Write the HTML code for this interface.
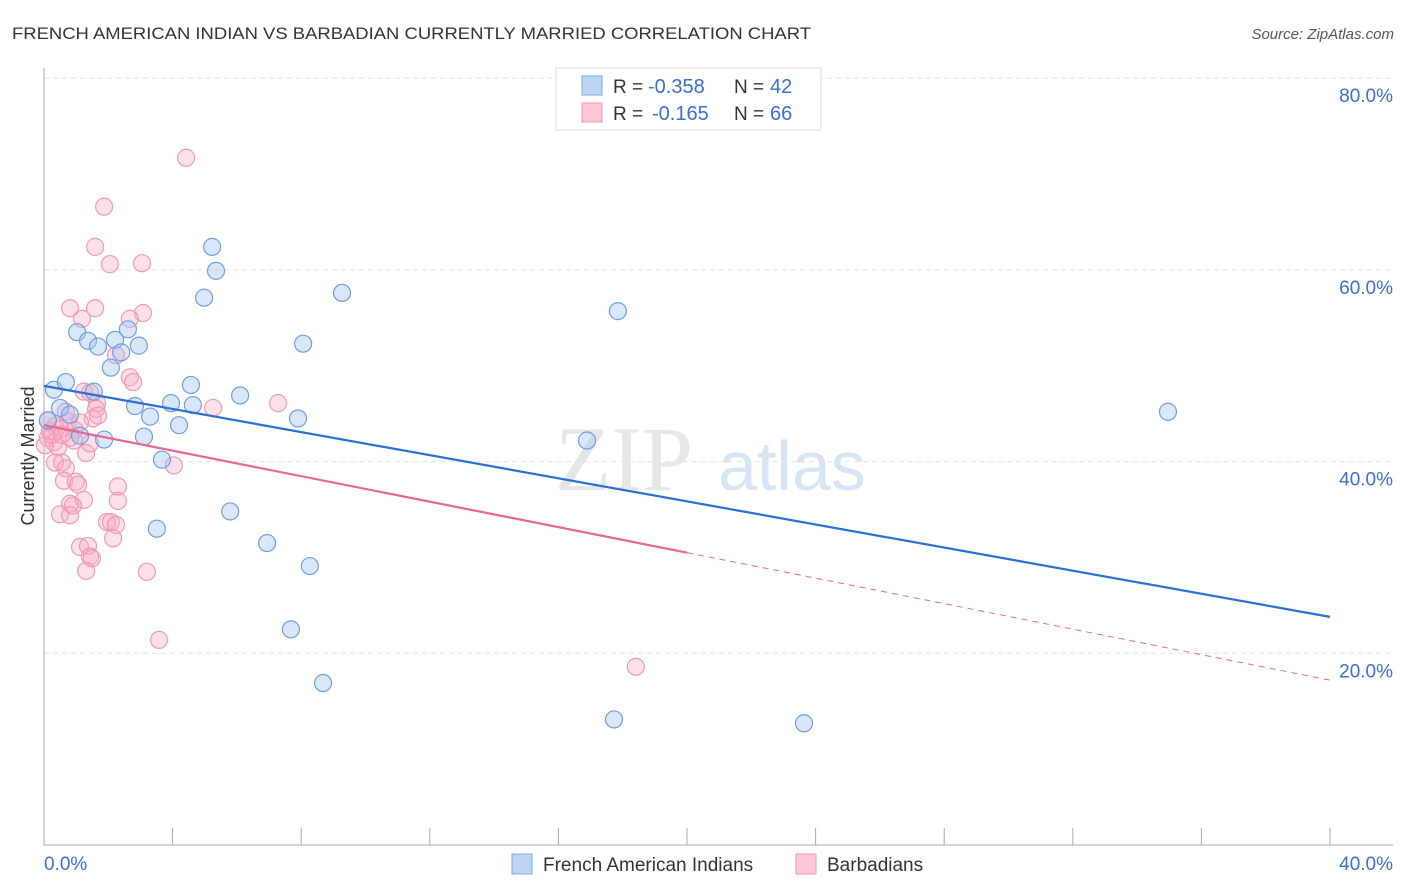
<!DOCTYPE html>
<html><head><meta charset="utf-8">
<style>
body{margin:0;background:#fff;font-family:"Liberation Sans",sans-serif;}
svg{display:block}
</style></head>
<body>
<svg id="chart" width="1406" height="892" xmlns="http://www.w3.org/2000/svg" font-family="Liberation Sans, sans-serif">
<text x="12" y="39" font-size="17" fill="#333" textLength="799" lengthAdjust="spacingAndGlyphs">FRENCH AMERICAN INDIAN VS BARBADIAN CURRENTLY MARRIED CORRELATION CHART</text>
<text x="1394" y="39" font-size="15" fill="#555" text-anchor="end" font-style="italic">Source: ZipAtlas.com</text>
<g>
<text x="555" y="490" font-size="92" fill="#e6e6e6" font-family="Liberation Serif, serif">ZIP</text>
<text x="718" y="490" font-size="70" fill="#d6e4f3">atlas</text>
</g>
<g id="grid"></g>
<g id="axes"></g>
<g id="marks"></g>
<text transform="translate(34,456) rotate(-90)" font-size="18" fill="#333" text-anchor="middle">Currently Married</text>
<g>
<rect x="556" y="68" width="265" height="62" fill="#fff" stroke="#ddd"/>
<rect x="582" y="76" width="20" height="19" fill="#bcd5f5" stroke="#7fa9e0"/>
<rect x="582" y="103" width="20" height="19" fill="#fcc8d6" stroke="#ee9ab2"/>
<text x="613" y="93" font-size="19" fill="#333">R =</text>
<text x="648" y="93" font-size="20" fill="#3a6fd0">-0.358</text>
<text x="734" y="93" font-size="19" fill="#333">N =</text>
<text x="770" y="93" font-size="20" fill="#3a6fd0">42</text>
<text x="613" y="120" font-size="19" fill="#333">R =</text>
<text x="652" y="120" font-size="20" fill="#3a6fd0">-0.165</text>
<text x="734" y="120" font-size="19" fill="#333">N =</text>
<text x="770" y="120" font-size="20" fill="#3a6fd0">66</text>
</g>
<g>
<rect x="512" y="854" width="20" height="20" fill="#bcd5f5" stroke="#7fa9e0"/>
<text x="543" y="871" font-size="19" fill="#333">French American Indians</text>
<rect x="796" y="854" width="20" height="20" fill="#fcc8d6" stroke="#ee9ab2"/>
<text x="827" y="871" font-size="19" fill="#333">Barbadians</text>
</g>
</svg>
<script>
const yTicks=[20,40,60,80];
const yTickLabels=["20.0%","40.0%","60.0%","80.0%"];
const xTickLabels=["0.0%","40.0%"];
const blueX=[0.31,0.68,0.50,0.81,1.12,1.03,1.37,1.68,1.55,1.87,2.21,2.40,2.08,2.61,2.95,2.83,3.30,3.11,3.67,3.51,3.95,4.20,4.57,4.63,4.98,5.23,5.35,6.10,5.79,6.94,7.90,8.06,8.27,7.68,8.68,9.27,16.89,17.85,17.73,23.64,34.96,0.12];
const blueY=[47.5,48.3,45.6,44.9,42.7,53.5,52.6,52.0,47.3,42.3,52.7,51.4,49.8,53.8,52.1,45.8,44.7,42.6,40.2,33.0,46.1,43.8,48.0,45.9,57.1,62.4,59.9,46.9,34.8,31.5,44.5,52.3,29.1,22.5,16.9,57.6,42.2,55.7,13.1,12.7,45.2,44.3];
const pinkX=[4.42,1.87,1.59,2.05,3.05,0.81,1.59,1.18,3.08,2.67,2.24,2.67,2.77,1.24,1.43,1.65,1.62,1.52,1.68,0.68,0.75,0.34,0.19,0.50,0.12,0.31,0.44,0.96,0.93,1.31,1.43,0.56,0.34,0.68,0.62,0.99,1.06,2.30,2.30,1.24,0.81,0.90,0.50,0.81,1.96,2.08,2.24,2.15,1.12,1.37,1.43,1.49,1.31,3.20,3.58,4.04,5.26,7.28,18.41,0.12,0.25,0.56,1.12,0.03,0.81];
const pinkY=[71.7,66.6,62.4,60.6,60.7,56.0,56.0,54.9,55.5,54.9,51.1,48.8,48.3,47.3,47.2,46.1,45.5,44.5,44.8,45.2,44.2,43.7,43.2,43.4,42.5,42.0,41.5,43.3,42.2,40.9,41.9,39.9,39.9,39.3,38.0,37.9,37.6,37.4,35.9,36.0,35.6,35.4,34.5,34.4,33.7,33.7,33.4,32.0,31.1,31.2,30.1,29.9,28.6,28.5,21.4,39.6,45.6,46.1,18.6,44.3,42.8,42.8,44.1,41.7,42.5];
const blueFit=[47.9,23.8]; // y at x=0 and x=40
const pinkFit=[43.8,17.2];
const pinkSolidEnd=20;

const X0=44,X1=1330,Y0=845,PY=9.585;
const sx=v=>X0+(X1-X0)*v/40;
const sy=v=>Y0-v*PY;
const NS="http://www.w3.org/2000/svg";
function mk(tag,attrs,parent){const e=document.createElementNS(NS,tag);for(const k in attrs)e.setAttribute(k,attrs[k]);parent.appendChild(e);return e;}
const grid=document.getElementById('grid'),axes=document.getElementById('axes'),marks=document.getElementById('marks');
yTicks.forEach((t,i)=>{
 const l=mk('line',{x1:X0,x2:1393,y1:sy(t),y2:sy(t),stroke:'#e3e3e3','stroke-dasharray':'5,4'},grid);
 
 
 const tx=mk('text',{x:1393,y:sy(t)+24,'font-size':19,fill:'#3a6fd0','text-anchor':'end'},axes);
 tx.textContent=yTickLabels[i];
 
 
});
const ya=mk('line',{x1:X0,x2:X0,y1:68,y2:Y0,stroke:'#aaa'},axes);


const xa=mk('line',{x1:X0,x2:1393,y1:Y0,y2:Y0,stroke:'#aaa'},axes);


for(let i=0;i<=10;i++){
 const t=mk('line',{x1:sx(i*4),x2:sx(i*4),y1:828,y2:Y0,stroke:'#aaa'},axes);
 
 
}
[[0,'start',X0],[1,'end',1393]].forEach(([i,a,x])=>{
 const tx=mk('text',{x:x,y:870,'font-size':19,fill:'#3a6fd0','text-anchor':a},axes);
 tx.textContent=xTickLabels[i];
 
 
});
pinkX.forEach((v,i)=>{
 const c=mk('circle',{cx:sx(v),cy:sy(pinkY[i]),r:8.5,fill:'rgba(248,170,195,0.35)',stroke:'#ee9ab2','stroke-width':1.2},marks);
 
 
});
blueX.forEach((v,i)=>{
 const c=mk('circle',{cx:sx(v),cy:sy(blueY[i]),r:8.5,fill:'rgba(160,195,240,0.4)',stroke:'#6f9ee0','stroke-width':1.2},marks);
 
 
});
const bl=mk('line',{x1:sx(0),y1:sy(blueFit[0]),x2:sx(40),y2:sy(blueFit[1]),stroke:'#2a6fd6','stroke-width':2.2},marks);


const pm=pinkFit[0]+(pinkFit[1]-pinkFit[0])*pinkSolidEnd/40;
const pl=mk('line',{x1:sx(0),y1:sy(pinkFit[0]),x2:sx(pinkSolidEnd),y2:sy(pm),stroke:'#e8668f','stroke-width':2.2},marks);


const pd=mk('line',{x1:sx(pinkSolidEnd),y1:sy(pm),x2:sx(40),y2:sy(pinkFit[1]),stroke:'#e8668f','stroke-width':1,'stroke-dasharray':'6,5'},marks);


</script>
</body></html>
